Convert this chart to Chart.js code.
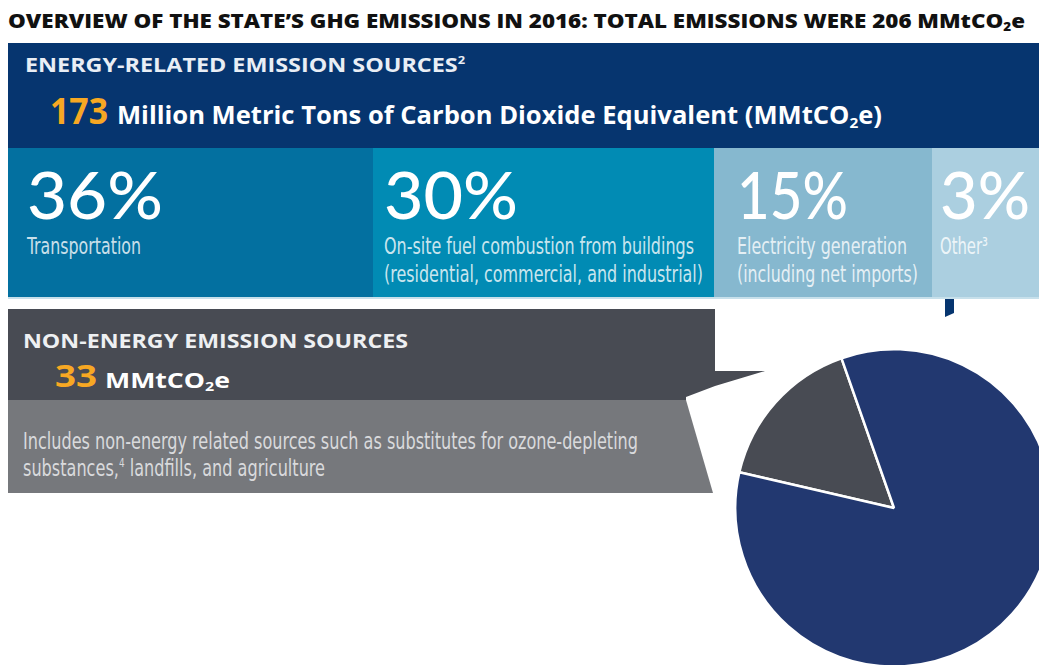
<!DOCTYPE html>
<html lang="en">
  <head>
    <meta charset="UTF-8" />
    <title>State GHG Emissions 2016</title>
    <script src="https://cdn.jsdelivr.net/npm/chart.js"></script>
    <style>
      html,
      body {
        margin: 0;
        padding: 0;
        width: 1039px;
        height: 665px;
        overflow: hidden;
        background: #ffffff;
      }
      .abs {
        position: absolute;
      }
      .fit {
        display: inline-block;
        white-space: nowrap;
        transform-origin: 0 0;
        line-height: 1;
      }
      .sans {
        font-family: "Open Sans", "Noto Sans", sans-serif;
      }
      .round {
        font-family: Lato, "Open Sans", sans-serif;
      }
      .narrow {
        font-family: "Liberation Sans Narrow", "DejaVu Sans Condensed", sans-serif;
      }
      sub {
        font-size: 0.6em;
        vertical-align: -0.25em;
        line-height: 0;
      }
      sup {
        line-height: 0;
      }
      #pieCanvas {
        position: absolute;
        left: 734px;
        top: 348px;
      }
    </style>
  </head>
  <body>
    <div id="page"></div>
    <canvas id="pieCanvas" width="320" height="320"></canvas>

    <script>
      // values
      const totalEmissions = 206;
      const sourceLabels = ["Non-energy emission sources", "Energy-related emission sources"];
      const sourceValues = [33, 173];

      const sectorShares = [36, 30, 15, 3];
      const sectorLabels = [
        ["Transportation"],
        ["On-site fuel combustion from buildings", "(residential, commercial, and industrial)"],
        ["Electricity generation", "(including net imports)"],
        ["Other\u00b3"],
      ];
      const nonEnergyNote = [
        "Includes non-energy related sources such as substitutes for ozone-depleting",
        "substances,\u2074 landfills, and agriculture",
      ];

      // layout of the strip under the blue header
      const stripLeft = [8, 373, 714, 932];
      const stripRight = [373, 714, 932, 1039];
      const stripColors = ["#0370a0", "#018bb4", "#86b8cf", "#abcfe0"];
      const textLeft = [27, 384, 737, 940];
      const pctWidths = [136, 134, 111, 90];
      const labelWidths = [[114], [310, 319], [170, 181], [48]];

      const page = document.getElementById("page");

      function box(x, y, w, h, color, clip) {
        const d = document.createElement("div");
        d.className = "abs";
        d.style.left = x + "px";
        d.style.top = y + "px";
        d.style.width = w + "px";
        d.style.height = h + "px";
        d.style.background = color;
        if (clip) d.style.clipPath = clip;
        page.appendChild(d);
        return d;
      }

      // text with its baseline at y, stretched to width w
      function text(x, baseline, html, size, cls, color, w, weight) {
        const d = document.createElement("div");
        d.className = "abs fit " + cls;
        d.style.left = x + "px";
        d.style.top = baseline - size * 0.89 + "px";
        d.style.fontSize = size + "px";
        d.style.color = color;
        d.style.fontWeight = weight || 400;
        d.innerHTML = html;
        if (w) d.dataset.w = w;
        page.appendChild(d);
        return d;
      }

      // title
      text(
        8,
        29,
        "OVERVIEW OF THE STATE\u2019S GHG EMISSIONS IN 2016: TOTAL EMISSIONS WERE " +
          totalEmissions +
          " MMtCO<sub>2</sub>e",
        19,
        "sans",
        "#111111",
        1017,
        800
      );

      // energy header
      box(8, 43, 1031, 105, "#06356f");
      text(25, 73, "ENERGY-RELATED EMISSION SOURCES<sup style='font-size:0.55em'>2</sup>", 20, "sans", "#e9eef5", 440, 700);
      text(50, 124, sourceValues[1], 35, "sans", "#f7a823", 58, 700);
      text(
        117,
        124,
        "Million Metric Tons of Carbon Dioxide Equivalent (MMtCO<sub>2</sub>e)",
        25,
        "sans",
        "#ffffff",
        765,
        700
      );

      // sector strip
      sectorShares.forEach((share, i) => {
        box(stripLeft[i], 148, stripRight[i] - stripLeft[i], 150, stripColors[i]);
        text(textLeft[i], 220, share + "%", 65, "round", "#ffffff", pctWidths[i], 500);
        sectorLabels[i].forEach((line, j) => {
          text(textLeft[i], 255 + j * 28, line, 23, "narrow", "rgba(255,255,255,0.8)", labelWidths[i][j], 400);
        });
      });
      box(8, 297, 1031, 2, "#c7e0eb");
      box(945, 299, 9, 18, "#06356f", "polygon(0 0, 9px 0, 9px 14px, 0 18px)");

      // non-energy boxes
      box(
        8,
        309,
        757,
        91,
        "#484b53",
        "polygon(0 0, 707px 0, 707px 62px, 757px 62px, 707px 77px, 678px 88px, 678px 91px, 0 91px)"
      );
      box(8, 400, 706, 93, "#76787c", "polygon(0 0, 678px 0, 705px 93px, 0 93px)");
      text(23, 349, "NON-ENERGY EMISSION SOURCES", 20, "sans", "#eef0f2", 385, 700);
      text(55, 388, sourceValues[0], 30, "sans", "#f7a823", 42, 700);
      text(105, 388, "MMtCO<sub>2</sub>e", 22, "sans", "#ffffff", 125, 700);
      text(23, 450, nonEnergyNote[0], 23, "narrow", "#d9dadc", 615, 400);
      text(23, 477, nonEnergyNote[1].replace("\u2074", "<sup style='font-size:0.55em'>4</sup>"), 23, "narrow", "#d9dadc", 302, 400);

      document.querySelectorAll("[data-w]").forEach((el) => {
        const w = el.getBoundingClientRect().width;
        el.style.transform = "scaleX(" + el.dataset.w / w + ")";
      });

      // the pie
      new Chart(document.getElementById("pieCanvas"), {
        type: "pie",
        data: {
          labels: sourceLabels,
          datasets: [
            {
              data: sourceValues,
              backgroundColor: ["#484b53", "#223870"],
              borderColor: "#ffffff",
              borderWidth: 2.5,
            },
          ],
        },
        options: {
          responsive: false,
          animation: false,
          rotation: -77,
          layout: { padding: 0 },
          plugins: {
            legend: { display: false },
            tooltip: { enabled: false },
          },
        },
      });
    </script>
  </body>
</html>
